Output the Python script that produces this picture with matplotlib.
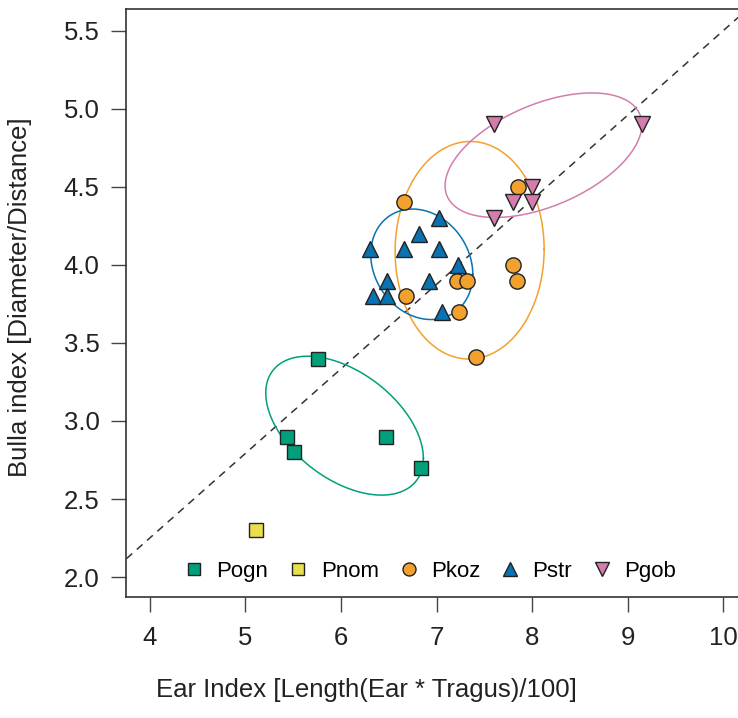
import numpy as np
import matplotlib
matplotlib.use("Agg")
import matplotlib.pyplot as plt

plt.rcParams['font.family'] = ['Liberation Sans', 'DejaVu Sans']

# --- data ---
groups = ['Pogn', 'Pnom', 'Pkoz', 'Pstr', 'Pgob']

ear = {
    'Pogn': [5.76, 5.43, 5.51, 6.47, 6.84],
    'Pnom': [5.11],
    'Pkoz': [6.66, 6.68, 7.21, 7.32, 7.23, 7.41, 7.85, 7.80, 7.84],
    'Pstr': [6.30, 6.66, 6.82, 7.03, 7.03, 6.48, 6.92, 7.22, 6.33, 6.48, 7.06],
    'Pgob': [7.60, 9.15, 8.00, 7.80, 8.00, 7.60],
}
bulla = {
    'Pogn': [3.4, 2.9, 2.8, 2.9, 2.7],
    'Pnom': [2.3],
    'Pkoz': [4.4, 3.8, 3.9, 3.9, 3.7, 3.41, 4.5, 4.0, 3.9],
    'Pstr': [4.1, 4.1, 4.2, 4.3, 4.1, 3.9, 3.9, 4.0, 3.8, 3.8, 3.7],
    'Pgob': [4.9, 4.9, 4.5, 4.4, 4.4, 4.3],
}

# ellipse summaries (centre, half-extent in x / y, correlation)
ell_groups = ['Pogn', 'Pkoz', 'Pstr', 'Pgob']
ell_cx = [6.037, 7.346, 6.845, 8.119]
ell_cy = [2.970, 4.094, 4.004, 4.703]
ell_sx = [0.825, 0.780, 0.534, 1.030]
ell_sy = [0.445, 0.697, 0.354, 0.399]
ell_rho = [-0.47, 0.01, -0.18, 0.49]

colors = {'Pogn': '#00A07A', 'Pnom': '#E9DF4E', 'Pkoz': '#F2A12E',
          'Pstr': '#0A72B0', 'Pgob': '#D47DAC'}
markers = {'Pogn': 's', 'Pnom': 's', 'Pkoz': 'o', 'Pstr': '^', 'Pgob': 'v'}
msize = {'Pogn': 10, 'Pnom': 10, 'Pkoz': 11, 'Pstr': 12, 'Pgob': 12}

fig = plt.figure(figsize=(7.38, 7.18), dpi=100)
ax = fig.add_axes([0.1707, 0.1685, 0.861, 0.819])

# regression line over all points
all_x = np.concatenate([ear[g] for g in groups])
all_y = np.concatenate([bulla[g] for g in groups])
slope, icpt = np.polyfit(all_x, all_y, 1)
xx = np.array([3.0, 11.0])
ax.plot(xx, icpt + slope * xx, ls=(0, (5, 4)), color='#333333', lw=1.1, zorder=1)

# ellipses
t = np.linspace(0, 2 * np.pi, 300)
for i, g in enumerate(ell_groups):
    r = ell_rho[i]
    ex = ell_cx[i] + ell_sx[i] * np.cos(t)
    ey = ell_cy[i] + ell_sy[i] * (r * np.cos(t) + np.sqrt(1 - r ** 2) * np.sin(t))
    ax.plot(ex, ey, color=colors[g], lw=1.1, zorder=2)

for g in groups:
    ax.plot(ear[g], bulla[g], ls='none', marker=markers[g], ms=msize[g],
            mfc=colors[g], mec='#222222', mew=1.0, label=g, zorder=3)

ax.set_xlim(3.749, 10.4)
ax.set_ylim(1.872, 5.64)
ax.set_xticks([4, 5, 6, 7, 8, 9, 10])
ax.set_yticks([2.0, 2.5, 3.0, 3.5, 4.0, 4.5, 5.0, 5.5])
ax.set_yticklabels(['2.0', '2.5', '3.0', '3.5', '4.0', '4.5', '5.0', '5.5'])
ax.tick_params(labelsize=18.5, length=11, width=1.0, color='#444444', pad=8,
               labelcolor='#222222')
ax.tick_params(axis='x', pad=10)
for s in ax.spines.values():
    s.set_color('#333333')
    s.set_linewidth(1.2)

ax.set_xlabel('Ear Index [Length(Ear * Tragus)/100]', fontsize=18.5,
              color='#222222')
ax.xaxis.set_label_coords(0.378, -0.138)
ax.set_ylabel('Bulla index [Diameter/Distance]', fontsize=18.5,
              color='#222222')
ax.yaxis.set_label_coords(-0.148, 0.51)

ax.legend(loc='center', bbox_to_anchor=(0.478, 0.044), ncol=5, frameon=False,
          fontsize=16, markerscale=0.85, handlelength=1.0, handletextpad=0.5,
          columnspacing=0.85)

fig.savefig('out.png', dpi=100)
